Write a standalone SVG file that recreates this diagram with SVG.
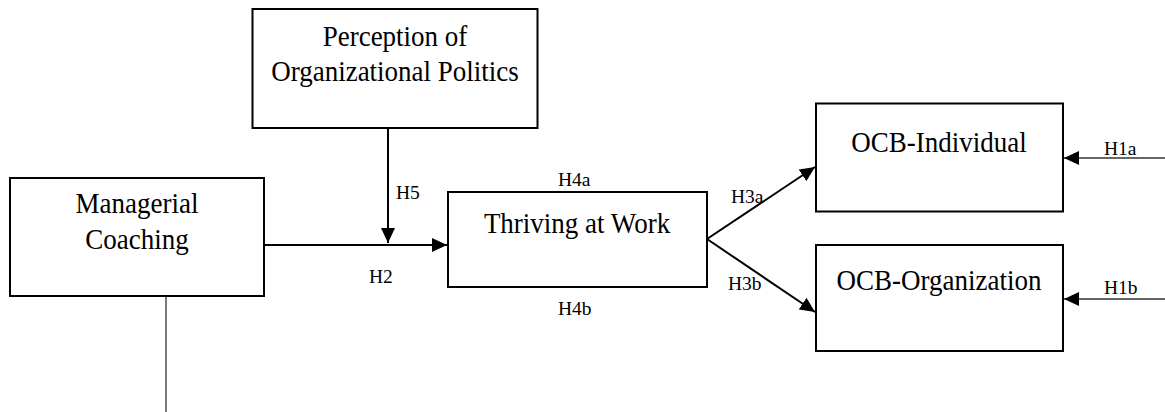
<svg xmlns="http://www.w3.org/2000/svg" width="1165" height="412" viewBox="0 0 1165 412">
<style>
.box{fill:#fff;stroke:#000;stroke-width:2}
.t{font-family:"Liberation Serif","Times New Roman",serif;font-size:27px;fill:#000;text-anchor:middle}
.l{font-family:"Liberation Serif","Times New Roman",serif;font-size:19.5px;fill:#000}
.c{fill:none;stroke:#000;stroke-width:2}
.thin{fill:none;stroke:#333;stroke-width:1.3}
</style>
<defs>
<marker id="ah" markerUnits="userSpaceOnUse" markerWidth="16" markerHeight="14" refX="15" refY="7" orient="auto">
<path d="M0,0 L15,7 L0,14 z" fill="#000"/>
</marker>
</defs>
<rect width="1165" height="412" fill="#fff"/>
<g id="connectors">
<line class="c" x1="264" y1="245" x2="447" y2="245" marker-end="url(#ah)"/>
<line class="c" x1="388" y1="128" x2="388" y2="243" marker-end="url(#ah)"/>
<line class="c" x1="707" y1="239" x2="815" y2="167" marker-end="url(#ah)"/>
<line class="c" x1="707" y1="239" x2="815" y2="312" marker-end="url(#ah)"/>
<line class="thin" x1="1165" y1="158" x2="1064" y2="158" marker-end="url(#ah)"/>
<line class="thin" x1="1165" y1="299" x2="1064" y2="299" marker-end="url(#ah)"/>
<line class="thin" x1="166" y1="296" x2="166" y2="412"/>
</g>
<g id="perception">
<rect class="box" x="252.5" y="9" width="285" height="119"/>
<text class="t" transform="translate(395,46) scale(1,1.1)">Perception of</text>
<text class="t" transform="translate(395,81) scale(1,1.1)">Organizational Politics</text>
</g>
<g id="managerial">
<rect class="box" x="10" y="178" width="254" height="118"/>
<text class="t" transform="translate(137,213) scale(1,1.1)">Managerial</text>
<text class="t" transform="translate(137,249) scale(1,1.1)">Coaching</text>
</g>
<g id="thriving">
<rect class="box" x="448" y="192" width="259" height="95"/>
<text class="t" transform="translate(577,233) scale(1,1.1)">Thriving at Work</text>
</g>
<g id="ocbi">
<rect class="box" x="816" y="103.5" width="247" height="108"/>
<text class="t" transform="translate(939,152) scale(1,1.1)">OCB-Individual</text>
</g>
<g id="ocbo">
<rect class="box" x="816" y="245" width="247" height="106"/>
<text class="t" transform="translate(939,290) scale(1,1.1)">OCB-Organization</text>
</g>
<g id="labels">
<text class="l" x="396" y="199">H5</text>
<text class="l" x="369" y="283">H2</text>
<text class="l" x="558" y="186">H4a</text>
<text class="l" x="558" y="315">H4b</text>
<text class="l" x="731" y="203">H3a</text>
<text class="l" x="728" y="290">H3b</text>
<text class="l" x="1104" y="155">H1a</text>
<text class="l" x="1104" y="294">H1b</text>
</g>
</svg>
